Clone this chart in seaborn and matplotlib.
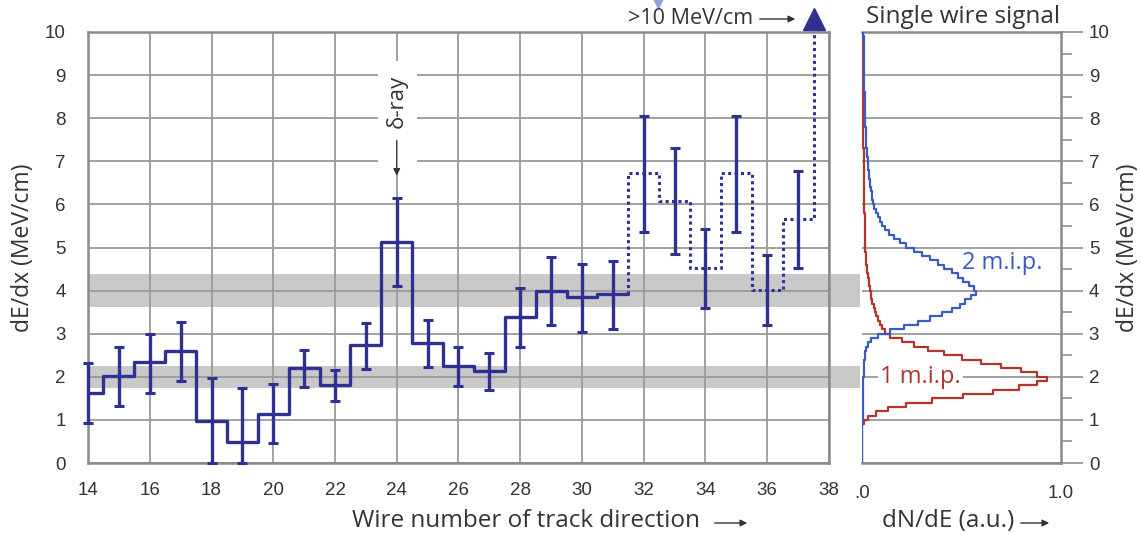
import numpy as np
import matplotlib
matplotlib.use("Agg")
import matplotlib.pyplot as plt
from matplotlib.patches import Rectangle
from matplotlib.ticker import MultipleLocator, FixedLocator
import seaborn as sns

# measured dE/dx per wire (solid part) and saturated part (dotted)
wires_solid = [14, 15, 16, 17, 18, 19, 20, 21, 22, 23, 24, 25, 26, 27, 28, 29, 30, 31]
dedx_solid = [1.62, 2.03, 2.35, 2.6, 0.98, 0.49, 1.13, 2.2, 1.81, 2.73, 5.12, 2.79,
              2.25, 2.14, 3.39, 3.99, 3.84, 3.93]
lo_solid = [0.92, 1.32, 1.62, 1.9, 0.0, 0.0, 0.46, 1.76, 1.44, 2.18, 4.1, 2.22,
            1.78, 1.69, 2.69, 3.2, 3.05, 3.11]
hi_solid = [2.31, 2.68, 3.0, 3.28, 1.98, 1.75, 1.83, 2.62, 2.16, 3.25, 6.15, 3.32,
            2.68, 2.56, 4.06, 4.78, 4.62, 4.69]

wires_dot = [32, 33, 34, 35, 36, 37]
dedx_dot = [6.73, 6.09, 4.52, 6.73, 4.01, 5.67]
lo_dot = [5.37, 4.86, 3.6, 5.37, 3.2, 4.52]
hi_dot = [8.05, 7.32, 5.42, 8.05, 4.82, 6.78]
overflow_value = 10.0  # wire 38: >10 MeV/cm

# m.i.p. bands
band_1mip = (1.75, 2.25)
band_2mip = (3.62, 4.38)

# single wire signal spectra, 0.1 MeV/cm bins from 0 to 10
spec_edges = np.linspace(0, 10, 101)
spec_1mip = [
    0, 0, 0, 0, 0, 0, 0, 0, 0, 0.01,
    0.03, 0.07, 0.13, 0.22, 0.35, 0.51, 0.66, 0.79, 0.88, 0.93,
    0.88, 0.80, 0.70, 0.60, 0.50, 0.41, 0.33, 0.26, 0.20, 0.14,
    0.115, 0.10, 0.09, 0.08, 0.07, 0.064, 0.058, 0.052, 0.047, 0.043,
    0.04, 0.036, 0.033, 0.03, 0.027, 0.025, 0.022, 0.02, 0.018, 0.017,
    0.016, 0.016, 0.015, 0.015, 0.014, 0.014, 0.013, 0.013, 0.012, 0.012,
    0.012, 0.011, 0.011, 0.011, 0.010, 0.010, 0.010, 0.009, 0.009, 0.009,
    0.008, 0.008, 0.008, 0.007, 0.007, 0.007, 0.006, 0.006, 0.006, 0.006,
    0.005, 0.005, 0.005, 0.005, 0.004, 0.004, 0.004, 0.004, 0.004, 0.003,
    0.003, 0.003, 0.003, 0.003, 0.002, 0.002, 0.002, 0.002, 0.002, 0.002,
]
spec_2mip = [
    0.002, 0.002, 0.002, 0.002, 0.002, 0.002, 0.002, 0.002, 0.002, 0.002,
    0.003, 0.003, 0.003, 0.004, 0.004, 0.005, 0.005, 0.006, 0.006, 0.007,
    0.008, 0.009, 0.01, 0.012, 0.014, 0.017, 0.02, 0.028, 0.045, 0.08,
    0.14, 0.21, 0.28, 0.34, 0.40, 0.45, 0.49, 0.52, 0.55, 0.575,
    0.565, 0.54, 0.51, 0.48, 0.45, 0.41, 0.38, 0.34, 0.30, 0.26,
    0.22, 0.19, 0.16, 0.135, 0.115, 0.10, 0.088, 0.078, 0.068, 0.062,
    0.057, 0.052, 0.048, 0.045, 0.042, 0.039, 0.036, 0.034, 0.032, 0.03,
    0.028, 0.026, 0.024, 0.022, 0.021, 0.02, 0.019, 0.018, 0.017, 0.016,
    0.015, 0.015, 0.014, 0.014, 0.013, 0.013, 0.012, 0.012, 0.011, 0.011,
    0.01, 0.01, 0.01, 0.009, 0.009, 0.009, 0.008, 0.008, 0.008, 0.007,
]

BLUE = "#2e3192"
BLUE2 = "#3a5cc2"
RED = "#b3342c"
GRID = "#9a9a9a"
SPINE = "#8a8a8a"
TXT = "#333333"

sns.set_style("white")
plt.rcParams["font.family"] = ["Liberation Sans", "DejaVu Sans"]
LAB = ["Open Sans", "DejaVu Sans"]

W, H = 1141, 534
fig = plt.figure(figsize=(W / 100, H / 100), dpi=100)
ax = fig.add_axes([88 / W, 1 - 463 / H, (829 - 88) / W, (463 - 32) / H])
ax2 = fig.add_axes([862 / W, 1 - 463 / H, (1061 - 862) / W, (463 - 32) / H])

# ---- main panel ----
ax.set_xlim(14, 38)
ax.set_ylim(0, 10)
ax.xaxis.set_major_locator(MultipleLocator(2))
ax.xaxis.set_minor_locator(MultipleLocator(1))
ax.yaxis.set_major_locator(MultipleLocator(1))
ax.yaxis.set_minor_locator(MultipleLocator(0.5))
ax.grid(which="major", color=GRID, lw=1.3)
ax.set_axisbelow(True)
ax.tick_params(axis="y", which="major", length=14, width=1.3, color=GRID,
               pad=2, labelsize=13.5, labelcolor=TXT)
ax.tick_params(axis="y", which="minor", length=7, width=1.3, color=GRID)
ax.tick_params(axis="x", which="major", length=9, width=1.3, color=GRID,
               pad=5, labelsize=13.5, labelcolor=TXT)
ax.tick_params(axis="x", which="minor", length=6, width=1.3, color=GRID)
for s in ax.spines.values():
    s.set_color(SPINE)
    s.set_linewidth(1.8)

for lo, hi in (band_1mip, band_2mip):
    ax.add_patch(Rectangle((0, lo), 1.042, hi - lo, transform=ax.get_yaxis_transform(),
                           fc="#c9c9c9", ec="none", zorder=0.3, clip_on=False))

# delta-ray annotation background
ax.add_patch(Rectangle((23.4, 6.72), 1.25, 2.6, fc="white", ec="none", zorder=0.8))
ax.text(24, 8.39, "δ-ray", rotation=90, ha="center", va="center", fontsize=16,
        color=TXT, family=LAB, zorder=4)
ax.annotate("", xy=(24, 6.6), xytext=(24, 7.55),
            arrowprops=dict(arrowstyle="-|>", color=TXT, lw=1.0, mutation_scale=10))

# solid step histogram
xs = [14] + [w + 0.5 for w in wires_solid]
ys = dedx_solid + [dedx_solid[-1]]
sns.lineplot(x=xs, y=ys, ax=ax, sort=False, estimator=None, color=BLUE, lw=2.4,
             drawstyle="steps-post", zorder=3)

# dotted part
xd = [wires_solid[-1] + 0.5] + [w - 0.5 for w in wires_dot] + [wires_dot[-1] + 0.5]
yd = [dedx_solid[-1]] + dedx_dot + [overflow_value]
sns.lineplot(x=xd, y=yd, ax=ax, sort=False, estimator=None, color=BLUE, lw=2.2,
             ls=(0, (1, 1.1)), drawstyle="steps-post", zorder=3)

wires_all = np.array(wires_solid + wires_dot)
vals_all = np.array(dedx_solid + dedx_dot)
lo_all = np.array(lo_solid + lo_dot)
hi_all = np.array(hi_solid + hi_dot)
eb = ax.errorbar(wires_all, vals_all, yerr=[vals_all - lo_all, hi_all - vals_all],
                 fmt="none", ecolor=BLUE, elinewidth=2.4, capsize=3.8, capthick=2.2,
                 zorder=3)
for art in eb.lines[1] + eb.lines[2]:
    art.set_clip_on(False)

ax.plot([wires_dot[-1] + 0.5], [overflow_value + 0.3], marker="^", ms=16, color=BLUE,
        clip_on=False, zorder=5)
ax.plot([32.46], [10.72], marker="v", ms=10, color="#8fa3d6", clip_on=False, zorder=5)

fig.text(753 / W, 1 - 18 / H, ">10 MeV/cm", ha="right", va="center", fontsize=15.5,
         color=TXT, family=LAB)
ax.annotate("", xy=(798 / W, 1 - 19 / H), xytext=(757 / W, 1 - 19 / H),
            xycoords="figure fraction", textcoords="figure fraction",
            arrowprops=dict(arrowstyle="-|>", color=TXT, lw=1.0, mutation_scale=10))

fig.text(23 / W, 1 - 248 / H, "dE/dx (MeV/cm)", rotation=90, ha="center", va="center",
         fontsize=16.5, color=TXT, family=LAB)
fig.text(352 / W, 1 - 521 / H, "Wire number of track direction", ha="left", va="center",
         fontsize=17.5, color=TXT, family=LAB)
ax.annotate("", xy=(750 / W, 1 - 523 / H), xytext=(712 / W, 1 - 523 / H),
            xycoords="figure fraction", textcoords="figure fraction",
            arrowprops=dict(arrowstyle="-|>", color=TXT, lw=1.0, mutation_scale=10))

# ---- single wire signal panel ----
ax2.set_xlim(0, 1)
ax2.set_ylim(0, 10)
ax2.yaxis.tick_right()
ax2.yaxis.set_major_locator(MultipleLocator(1))
ax2.yaxis.set_minor_locator(MultipleLocator(0.5))
ax2.xaxis.set_major_locator(FixedLocator([0, 1]))
ax2.xaxis.set_minor_locator(MultipleLocator(0.1))
ax2.set_xticklabels([".0", "1.0"])
ax2.grid(axis="y", which="major", color=GRID, lw=1.3)
ax2.set_axisbelow(True)
ax2.tick_params(axis="y", which="major", length=16, width=1.3, color=GRID,
                pad=4, labelsize=13.5, labelcolor=TXT)
ax2.tick_params(axis="y", which="minor", length=8, width=1.3, color=GRID)
ax2.tick_params(axis="x", which="major", length=12, width=1.3, color=GRID,
                pad=4, labelsize=13.5, labelcolor=TXT)
ax2.tick_params(axis="x", which="minor", length=8, width=1.3, color=GRID)
for name, s in ax2.spines.items():
    s.set_color(SPINE)
    s.set_linewidth(1.8)
ax2.spines["left"].set_visible(False)

ey = np.repeat(spec_edges, 2)[1:-1]
for spec, col in ((spec_1mip, RED), (spec_2mip, BLUE2)):
    sns.lineplot(x=np.repeat(spec, 2), y=ey, ax=ax2, sort=False, estimator=None,
                 color=col, lw=1.6, zorder=3)

ax2.text(0.505, 4.64, "2 m.i.p.", color=BLUE2, fontsize=17, ha="left", va="center",
         family=LAB)
ax2.text(0.09, 2.0, "1 m.i.p.", color=RED, fontsize=17, ha="left", va="center",
         family=LAB, bbox=dict(fc="white", ec="none", pad=1.5), zorder=2)

fig.text(963 / W, 1 - 17 / H, "Single wire signal", ha="center", va="center",
         fontsize=17.5, color=TXT, family=LAB)
fig.text(1128 / W, 1 - 248 / H, "dE/dx (MeV/cm)", rotation=90, ha="center", va="center",
         fontsize=16.5, color=TXT, family=LAB)
fig.text(882 / W, 1 - 521 / H, "dN/dE (a.u.)", ha="left", va="center",
         fontsize=17.5, color=TXT, family=LAB)
ax.annotate("", xy=(1052 / W, 1 - 523 / H), xytext=(1018 / W, 1 - 523 / H),
            xycoords="figure fraction", textcoords="figure fraction",
            arrowprops=dict(arrowstyle="-|>", color=TXT, lw=1.0, mutation_scale=10))

fig.savefig("out.png", dpi=100)
